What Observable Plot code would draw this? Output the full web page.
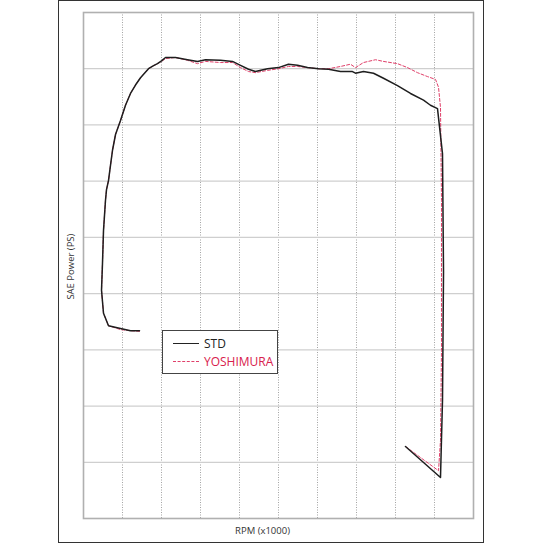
<!DOCTYPE html>
<html><head><meta charset="utf-8">
<script src="https://cdn.jsdelivr.net/npm/d3@7"></script>
<script src="https://cdn.jsdelivr.net/npm/@observablehq/plot@0.6"></script>
<style>
body{margin:0;background:#fff;}
#wrap{position:relative;width:544px;height:544px;overflow:hidden;}
#frame{position:absolute;left:58px;top:0px;width:424px;height:541px;border:1.5px solid #333;pointer-events:none;}
#legend{position:absolute;left:162px;top:330px;width:114px;height:42px;border:1px solid #444;background:#fff;font-family:"Open Sans",sans-serif;font-size:12px;}
.row{position:absolute;left:10px;height:15px;display:flex;align-items:center;}
.sw{width:26px;height:0;margin-right:5px;}
</style>
</head><body>
<div id="wrap"><div id="chart"></div><div id="frame"></div>
<div id="legend">
  <div class="row" style="top:5px"><div class="sw" style="border-top:1.4px solid #222"></div><span style="color:#222">STD</span></div>
  <div class="row" style="top:23px"><div class="sw" style="border-top:1px dashed #e0406a"></div><span style="color:#d8204c">YOSHIMURA</span></div>
</div>
</div>
<script>
const seriesNames = ["STD", "YOSHIMURA"];
const xLabel = "RPM (x1000)";
const yLabel = "SAE Power (PS)";
const xTicks = [0,1,2,3,4,5,6,7,8,9,10];
const yTicks = [0,10,20,30,40,50,60,70,80,90];

// STD trace, in drawing order
const stdX = [1.436,1.205,0.949,0.641,0.513,0.462,0.487,0.513,0.564,0.590,0.641,0.692,0.744,0.821,0.949,1.077,1.205,1.333,1.462,1.564,1.667,1.785,1.897,2.000,2.103,2.359,2.667,2.923,3.128,3.513,3.821,4.026,4.231,4.410,4.718,5.000,5.256,5.487,5.744,6.026,6.282,6.590,6.897,6.974,7.179,7.436,7.692,8.051,8.385,8.718,8.897,9.077,9.205,9.231,9.205,9.154,8.256];
const stdY = [33.4,33.4,33.8,34.3,36.5,40.6,45.4,51.2,56.6,58.5,60.1,62.8,65.5,68.3,70.8,73.5,75.6,77.1,78.4,79.2,80.0,80.5,80.9,81.4,82.0,82.0,81.6,81.3,81.6,81.5,81.3,80.6,79.9,79.5,80.0,80.2,80.8,80.6,80.2,80.0,79.9,79.5,79.5,79.2,79.5,79.2,78.3,77.0,75.6,74.4,73.5,72.9,64.9,43.8,21.0,7.3,12.8];

// YOSHIMURA trace, in drawing order
const yosX = [1.436,1.205,0.949,0.641,0.513,0.462,0.487,0.513,0.564,0.590,0.641,0.692,0.744,0.821,0.949,1.077,1.205,1.333,1.462,1.564,1.667,1.785,1.897,2.000,2.103,2.359,2.667,2.923,3.128,3.513,3.821,4.026,4.231,4.410,4.718,5.000,5.256,5.487,5.744,6.026,6.282,6.590,6.846,6.974,7.179,7.487,7.692,8.051,8.308,8.564,8.821,9.026,9.103,9.154,9.179,9.179,9.154,9.103,8.256];
const yosY = [33.3,33.4,33.6,34.3,36.5,40.6,45.4,51.2,56.6,58.5,60.1,62.8,65.5,68.3,70.8,73.5,75.6,77.1,78.4,79.2,80.0,80.5,80.9,81.3,81.8,82.0,81.5,80.9,81.3,81.1,81.1,80.2,79.5,79.3,79.7,80.0,80.4,80.4,80.2,80.0,80.0,80.4,80.8,80.2,81.1,81.6,81.3,80.9,80.2,79.3,78.6,78.1,76.7,73.1,56.6,29.9,13.9,8.5,12.8];

const std = stdX.map((x,i)=>({x, y: stdY[i]}));
const yos = yosX.map((x,i)=>({x, y: yosY[i]}));

const chart = Plot.plot({
  width: 544, height: 544,
  marginLeft: 83, marginRight: 71, marginTop: 12, marginBottom: 26,
  x: {domain: [0,10], axis: null},
  y: {domain: [0,90], axis: null},
  style: {fontFamily: "'Open Sans', sans-serif", background: "#fff"},
  marks: [
    Plot.gridX(xTicks, {stroke: "#9a9a9a", strokeOpacity: 0.9, strokeDasharray: "1,1.5"}),
    Plot.gridY(yTicks, {stroke: "#cfcfcf", strokeOpacity: 1, strokeWidth: 1.2}),
    Plot.frame({stroke: "#b0b0b0", strokeWidth: 1.6}),
    Plot.line(yos, {x: "x", y: "y", stroke: "#e0406a", strokeWidth: 1, strokeDasharray: "3,2", curve: "linear"}),
    Plot.line(std, {x: "x", y: "y", stroke: "#1e1e1e", strokeWidth: 1.5, curve: "linear"}),
    Plot.text([xLabel], {frameAnchor: "bottom", x: 4.59, dy: 15, fontSize: 9.5, fill: "#333"}),
    Plot.text([yLabel], {frameAnchor: "left", y: 44.8, dx: -13, rotate: -90, textAnchor: "middle", fontSize: 9.5, fill: "#333"})
  ]
});
document.getElementById("chart").appendChild(chart);
</script>
</body></html>
